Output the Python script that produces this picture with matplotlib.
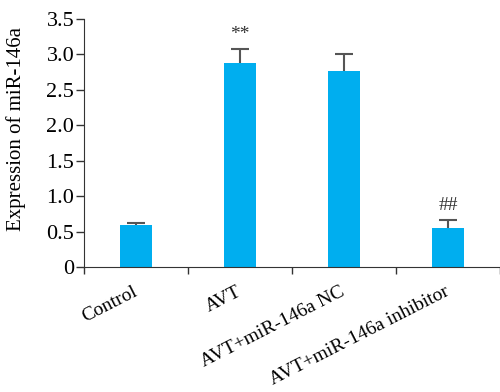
import numpy as np
import matplotlib.pyplot as plt

# 数据
groups = ["Control", "AVT", "AVT+miR-146a NC", "AVT+miR-146a inhibitor"]
expression = [0.59, 2.88, 2.77, 0.55]
errors = [0.03, 0.20, 0.24, 0.11]
marks = ["", "**", "", "##"]
yticks = [0, 0.5, 1.0, 1.5, 2.0, 2.5, 3.0, 3.5]
ylabels = ["0", "0.5", "1.0", "1.5", "2.0", "2.5", "3.0", "3.5"]

plt.rcParams['font.family'] = ['Liberation Serif', 'DejaVu Serif']

fig = plt.figure(figsize=(5, 3.92), dpi=100)
ax = fig.add_axes([0.168, 0.319, 0.832, 0.633])

x = np.arange(len(groups))
ax.bar(x, expression, width=0.31, color='#00AEEF', zorder=2)
# 只画向上的误差线
eb = ax.errorbar(x, expression, yerr=[np.zeros(len(errors)), errors], fmt='none',
                 ecolor='#555555', elinewidth=1.5, capsize=6.5, capthick=1.5, zorder=3)
eb[1][0].set_visible(False)

# 显著性标记
for i in range(len(groups)):
    if marks[i]:
        ax.text(x[i], expression[i] + errors[i] + 0.08, marks[i], ha='center', va='bottom',
                fontsize=14, color='#333333')

ax.set_xlim(-0.5, 3.5)
ax.set_ylim(0, 3.5)
ax.set_yticks(yticks)
ax.set_yticklabels(ylabels, fontsize=16)
ax.set_ylabel("Expression of miR-146a", fontsize=15)
ax.yaxis.set_label_coords(-0.14, 0.555)

ax.set_xticks(x)
ax.set_xticklabels(groups, fontsize=14, rotation=27, ha='right', va='center',
                   rotation_mode='anchor')
ax.set_xticks(np.arange(-0.5, 3.6, 1), minor=True)
ax.tick_params(axis='x', which='major', length=0, pad=17)
ax.tick_params(axis='x', which='minor', length=5, direction='out', width=1, color='#333333')
ax.tick_params(axis='y', length=6, width=1, color='#333333', pad=1)

ax.spines['top'].set_visible(False)
ax.spines['right'].set_visible(False)
ax.spines['left'].set_color('#333333')
ax.spines['bottom'].set_color('#333333')

plt.savefig('out.png', dpi=100)
